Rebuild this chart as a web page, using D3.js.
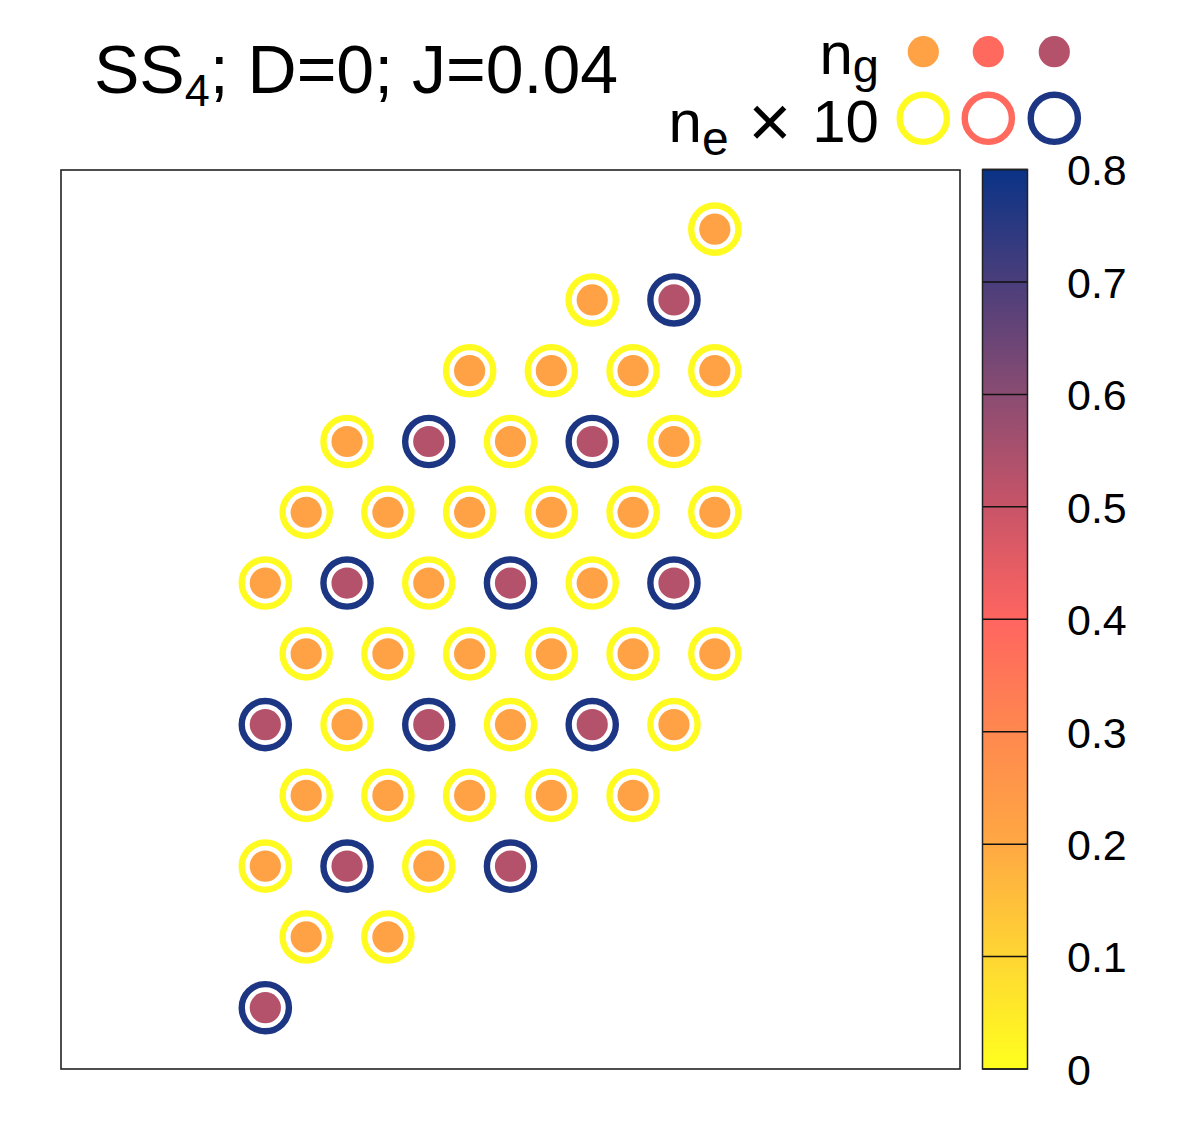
<!DOCTYPE html>
<html>
<head>
<meta charset="utf-8">
<script src="https://cdn.jsdelivr.net/npm/d3@7"></script>
<style>
  html, body { margin: 0; padding: 0; background: #fff; }
  svg { display: block; font-family: "Liberation Sans", Arial, Helvetica, sans-serif; }
</style>
</head>
<body>
<svg id="chart" width="1200" height="1125"></svg>
<script>
// ---- data ----
// lattice site positions (triangular lattice, unit spacing)
const siteX = [
  0,
  0.5, 1.5,
  0, 1, 2, 3,
  0.5, 1.5, 2.5, 3.5, 4.5,
  0, 1, 2, 3, 4, 5,
  0.5, 1.5, 2.5, 3.5, 4.5, 5.5,
  0, 1, 2, 3, 4, 5,
  0.5, 1.5, 2.5, 3.5, 4.5, 5.5,
  1, 2, 3, 4, 5,
  2.5, 3.5, 4.5, 5.5,
  4, 5,
  5.5
];
const siteY = [
  0,
  0.866, 0.866,
  1.732, 1.732, 1.732, 1.732,
  2.598, 2.598, 2.598, 2.598, 2.598,
  3.464, 3.464, 3.464, 3.464, 3.464, 3.464,
  4.330, 4.330, 4.330, 4.330, 4.330, 4.330,
  5.196, 5.196, 5.196, 5.196, 5.196, 5.196,
  6.062, 6.062, 6.062, 6.062, 6.062, 6.062,
  6.928, 6.928, 6.928, 6.928, 6.928,
  7.794, 7.794, 7.794, 7.794,
  8.660, 8.660,
  9.526
];
// ground-state density n_g (inner filled disc)
const ngValues = [
  0.53,
  0.22, 0.22,
  0.22, 0.53, 0.22, 0.53,
  0.22, 0.22, 0.22, 0.22, 0.22,
  0.53, 0.22, 0.53, 0.22, 0.53, 0.22,
  0.22, 0.22, 0.22, 0.22, 0.22, 0.22,
  0.22, 0.53, 0.22, 0.53, 0.22, 0.53,
  0.22, 0.22, 0.22, 0.22, 0.22, 0.22,
  0.22, 0.53, 0.22, 0.53, 0.22,
  0.22, 0.22, 0.22, 0.22,
  0.22, 0.53,
  0.22
];
// excited density n_e x 10 (outer ring)
const neValues = [
  0.77,
  0.01, 0.01,
  0.01, 0.77, 0.01, 0.77,
  0.01, 0.01, 0.01, 0.01, 0.01,
  0.77, 0.01, 0.77, 0.01, 0.77, 0.01,
  0.01, 0.01, 0.01, 0.01, 0.01, 0.01,
  0.01, 0.77, 0.01, 0.77, 0.01, 0.77,
  0.01, 0.01, 0.01, 0.01, 0.01, 0.01,
  0.01, 0.77, 0.01, 0.77, 0.01,
  0.01, 0.01, 0.01, 0.01,
  0.01, 0.77,
  0.01
];
const legendNg = [0.22, 0.39, 0.53];
const legendNe = [0.01, 0.39, 0.77];
const cbTicks = [0, 0.1, 0.2, 0.3, 0.4, 0.5, 0.6, 0.7, 0.8];
const cbTickLabels = ["0", "0.1", "0.2", "0.3", "0.4", "0.5", "0.6", "0.7", "0.8"];
const paletteStops = [0, 0.1, 0.2, 0.3, 0.4, 0.5, 0.6, 0.7, 0.8];
const paletteColors = ["#ffff1e", "#fed633", "#ffa843", "#ff884f", "#ff6560",
                       "#c85468", "#8a4c72", "#4a3e7b", "#0a3386"];

// ---- drawing ----
const svg = d3.select("#chart");
const plot = { left: 61, right: 960, top: 170, bottom: 1069 };

const x = d3.scaleLinear().domain([-2.5, 8.5]).range([plot.left, plot.right]);
const y = d3.scaleLinear().domain([-0.75, 10.25]).range([plot.bottom, plot.top]);
const color = d3.scaleLinear().domain(paletteStops).range(paletteColors)
  .interpolate(d3.interpolateRgb).clamp(true);

svg.append("rect").attr("width", 1200).attr("height", 1125).attr("fill", "#fff");

// frame
svg.append("rect")
  .attr("x", plot.left).attr("y", plot.top)
  .attr("width", plot.right - plot.left).attr("height", plot.bottom - plot.top)
  .attr("fill", "none").attr("stroke", "#222").attr("stroke-width", 1.6);

const sites = siteX.map((sx, i) => ({ x: sx, y: siteY[i], ng: ngValues[i], ne: neValues[i] }));

const RING_R = 23.6, RING_W = 6.4, DISC_R = 15.6;

const g = svg.append("g");
g.selectAll("circle.ring").data(sites).join("circle")
  .attr("class", "ring")
  .attr("cx", d => x(d.x)).attr("cy", d => y(d.y)).attr("r", RING_R)
  .attr("fill", "none").attr("stroke", d => color(d.ne)).attr("stroke-width", RING_W);
g.selectAll("circle.disc").data(sites).join("circle")
  .attr("class", "disc")
  .attr("cx", d => x(d.x)).attr("cy", d => y(d.y)).attr("r", DISC_R)
  .attr("fill", d => color(d.ng));

// colorbar
const cb = { x: 982.5, w: 45 };
const cbY = d3.scaleLinear().domain([0, 0.8]).range([plot.bottom, 169.5]);
const defs = svg.append("defs");
const grad = defs.append("linearGradient").attr("id", "cbgrad")
  .attr("x1", 0).attr("y1", 1).attr("x2", 0).attr("y2", 0);
grad.selectAll("stop").data(paletteStops).join("stop")
  .attr("offset", d => d / 0.8)
  .attr("stop-color", d => color(d));
svg.append("rect")
  .attr("x", cb.x).attr("y", cbY(0.8))
  .attr("width", cb.w).attr("height", cbY(0) - cbY(0.8))
  .attr("fill", "url(#cbgrad)");
svg.selectAll("line.cbtick").data(cbTicks).join("line")
  .attr("class", "cbtick")
  .attr("x1", cb.x).attr("x2", cb.x + cb.w)
  .attr("y1", d => cbY(d)).attr("y2", d => cbY(d))
  .attr("stroke", "#111").attr("stroke-width", 1.5);
svg.append("rect")
  .attr("x", cb.x).attr("y", cbY(0.8))
  .attr("width", cb.w).attr("height", cbY(0) - cbY(0.8))
  .attr("fill", "none").attr("stroke", "#222").attr("stroke-width", 1.5);
svg.selectAll("text.cblabel").data(cbTicks).join("text")
  .attr("class", "cblabel")
  .attr("x", 1067).attr("y", d => cbY(d)).attr("dy", "0.37em")
  .attr("font-size", 43).attr("fill", "#000")
  .text((d, i) => cbTickLabels[i]);

// title
const title = svg.append("text").attr("x", 94).attr("y", 93)
  .attr("font-size", 68).attr("fill", "#000");
title.append("tspan").text("SS");
title.append("tspan").attr("font-size", 45).attr("dy", 13).text("4");
title.append("tspan").attr("dy", -13).text("; D=0; J=0.04");

// legend
const lgX = [923.3, 988.3, 1054.3];
const t1 = svg.append("text").attr("x", 879).attr("y", 74)
  .attr("text-anchor", "end").attr("font-size", 60).attr("fill", "#000");
t1.append("tspan").text("n");
t1.append("tspan").attr("font-size", 47).attr("dy", 8).text("g");
const t2 = svg.append("text").attr("x", 879).attr("y", 141.5)
  .attr("text-anchor", "end").attr("font-size", 60).attr("fill", "#000");
t2.append("tspan").text("n");
t2.append("tspan").attr("font-size", 48).attr("dy", 13).text("e");
t2.append("tspan").attr("dy", -13).attr("dx", 3).text(" ");
t2.append("tspan").attr("font-size", 74).attr("dy", 5).text("\u00d7");
t2.append("tspan").attr("dy", -5).attr("dx", 4).text(" 10");

svg.selectAll("circle.lgng").data(legendNg).join("circle")
  .attr("class", "lgng")
  .attr("cx", (d, i) => lgX[i]).attr("cy", 51.7).attr("r", 15.6)
  .attr("fill", d => color(d));
svg.selectAll("circle.lgne").data(legendNe).join("circle")
  .attr("class", "lgne")
  .attr("cx", (d, i) => lgX[i]).attr("cy", 118.3).attr("r", RING_R)
  .attr("fill", "none").attr("stroke", d => color(d)).attr("stroke-width", RING_W);
</script>
</body>
</html>
